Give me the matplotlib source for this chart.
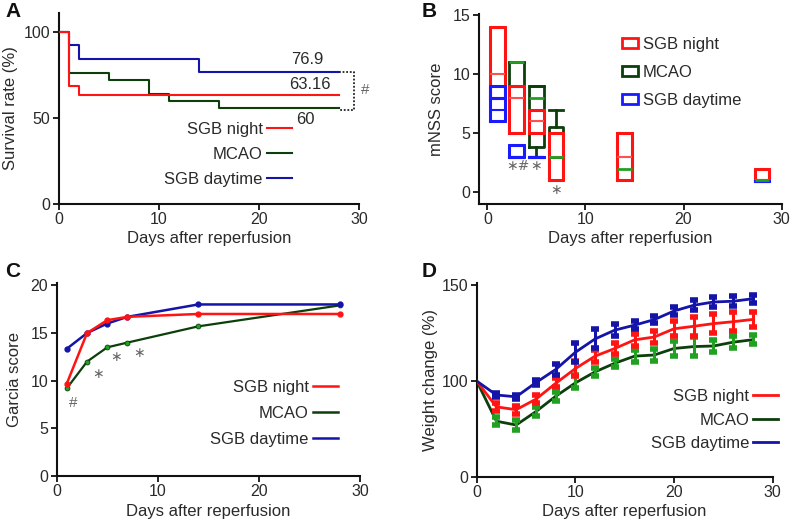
import numpy as np
import matplotlib
matplotlib.use("Agg")
import matplotlib.pyplot as plt
from matplotlib.lines import Line2D
from matplotlib.patches import Patch

plt.rcParams['font.family'] = ['Liberation Sans', 'DejaVu Sans']

RED = '#ff1414'
GREEN_D = '#0c3f0c'
GREEN_L = '#22a022'
BLUE = '#1414a8'
BLUE_B = '#1a1aff'
TXT = '#2a2a2a'
ANN = '#666666'
STAR = '\u2217'

groups = ['SGB night', 'MCAO', 'SGB daytime']

# ---------- Panel A: survival ----------
surv_days_night = [0, 1, 2, 28]
surv_night = [100, 68.4, 63.16, 63.16]
surv_days_mcao = [0, 1, 5, 9, 11, 16, 28]
surv_mcao = [100, 76, 72, 64, 60, 56, 56]
surv_days_day = [0, 1, 2, 14, 28]
surv_day = [100, 92.3, 84.6, 76.9, 76.9]
surv_labels = ['76.9', '63.16', '60']

# ---------- Panel B: mNSS (floating boxes) ----------
mnss_days_night = [1, 3, 5, 7, 14, 28]
mnss_night_lo = [8, 5, 5, 1, 1, 1]
mnss_night_q1 = [8, 5, 5, 1, 1, 1]
mnss_night_med = [10, 8, 6, 3, 3, 1]
mnss_night_q3 = [14, 9, 7, 5, 5, 2]
mnss_night_hi = [14, 9, 7, 5, 5, 2]

mnss_days_mcao = [3, 5, 7, 14, 28]
mnss_mcao_lo = [9, 3, 3, 1, 1]
mnss_mcao_q1 = [9, 3.8, 3, 1, 1]
mnss_mcao_med = [11, 8, 3, 2, 1]
mnss_mcao_q3 = [11, 9, 5.5, 5, 1]
mnss_mcao_hi = [11, 9, 7, 5, 1]

mnss_days_day = [1, 3, 5, 28]
mnss_day_lo = [6, 3, 3, 0.95]
mnss_day_q1 = [6, 3, 3, 0.95]
mnss_day_med = [7, 3, 3, 0.95]
mnss_day_mean = [8, 3, 3, 0.95]
mnss_day_q3 = [9, 4, 3, 0.95]
mnss_day_hi = [9, 4, 3, 0.95]

# ---------- Panel C: Garcia ----------
garcia_days = [1, 3, 5, 7, 14, 28]
garcia_night = [9.7, 15.0, 16.35, 16.7, 17.0, 17.0]
garcia_mcao = [9.2, 12.0, 13.5, 14.0, 15.7, 17.9]
garcia_day = [13.35, 15.0, 16.0, 16.7, 18.0, 18.0]

# ---------- Panel D: weight ----------
weight_days = [0, 2, 4, 6, 8, 10, 12, 14, 16, 18, 20, 22, 24, 26, 28]
weight_night = [100, 73, 70, 81, 97.5, 106.5, 113, 117, 121.5, 123, 127.3, 128.6, 130, 131, 132.2]
weight_night_err = [0, 4, 4, 4, 4, 4, 3, 3, 3, 3, 4, 5, 5, 5, 4]
weight_mcao = [100, 58, 54, 68, 84, 98, 104.8, 109.3, 113, 113.6, 117, 118, 118.3, 120.3, 121.6]
weight_mcao_err = [0, 4, 5, 5, 5, 5, 2, 2, 3, 3, 4, 5, 3, 3, 2.5]
weight_day = [100, 85.4, 83.5, 98.3, 106, 115, 122, 126.6, 129.2, 132.1, 136.6, 139.6, 141.3, 141.7, 143]
weight_day_err = [0, 2, 2, 2, 3, 5, 5, 3, 2, 2, 2, 2.5, 2.5, 2.5, 2]

fig = plt.figure(figsize=(7.93, 5.24), dpi=100)

def style(ax):
    for s in ['top', 'right']:
        ax.spines[s].set_visible(False)
    for s in ['left', 'bottom']:
        ax.spines[s].set_linewidth(1.5)
        ax.spines[s].set_color('#111111')
    ax.tick_params(direction='out', length=4, width=1.3, labelsize=11.5,
                   colors='#111111', labelcolor=TXT, pad=2)
    ax.set_xlabel('Days after reperfusion', fontsize=12, color=TXT, labelpad=3)

def legend(ax, handles, anchor, loc='center right', first=False, **kw):
    opts = dict(loc=loc, bbox_to_anchor=anchor, frameon=False, markerfirst=first,
                handlelength=1.5, handletextpad=0.25, labelspacing=0.55,
                borderpad=0, borderaxespad=0, fontsize=12)
    opts.update(kw)
    leg = ax.legend(handles, groups, **opts)
    for t in leg.get_texts():
        t.set_color(TXT)
    return leg

def star(ax, x, y, s, size=10):
    ax.text(x, y, s, fontsize=size, color=ANN, ha='center', va='center',
            family=['DejaVu Sans'])

# ---------- A ----------
axA = fig.add_axes([0.074, 0.6116, 0.3787, 0.363])
axA.step(surv_days_day, surv_day, where='post', color=BLUE, lw=1.5, zorder=2)
axA.step(surv_days_mcao, surv_mcao, where='post', color=GREEN_D, lw=1.5, zorder=3)
axA.step(surv_days_night, surv_night, where='post', color=RED, lw=1.5, zorder=4)
axA.set_xlim(0, 30)
axA.set_ylim(0, 111)
axA.set_xticks([0, 10, 20, 30])
axA.set_yticks([0, 50, 100])
style(axA)
axA.set_ylabel('Survival rate (%)', fontsize=12, color=TXT, labelpad=4)
axA.text(24.8, 84, surv_labels[0], fontsize=12, color=TXT, ha='center', va='center')
axA.text(25.1, 69.4, surv_labels[1], fontsize=12, color=TXT, ha='center', va='center')
axA.text(24.6, 49, surv_labels[2], fontsize=12, color=TXT, ha='center', va='center')
axA.plot([28, 29.55, 29.55, 28], [surv_day[-1], surv_day[-1], 54.8, 54.8], ls=(0, (1, 1)),
         color='#222222', lw=1.3, clip_on=False)
axA.text(30.6, 66, '#', fontsize=11, color=ANN, ha='center', va='center')
hA = [Line2D([], [], color=c, lw=1.5) for c in (RED, GREEN_D, BLUE)]
legend(axA, hA, (0.777, 0.258), labelspacing=0.62)

# ---------- B ----------
axB = fig.add_axes([0.6037, 0.6107, 0.382, 0.3626])

def stats(days, lo, q1, med, q3, hi, mean=None):
    out = []
    for i in range(len(days)):
        d = dict(whislo=lo[i], q1=q1[i], med=med[i], q3=q3[i], whishi=hi[i], fliers=[])
        if mean is not None:
            d['mean'] = mean[i]
        out.append(d)
    return out

W = 1.5
axB.bxp(stats(mnss_days_mcao, mnss_mcao_lo, mnss_mcao_q1, mnss_mcao_med, mnss_mcao_q3, mnss_mcao_hi),
        positions=mnss_days_mcao, widths=W, capwidths=W, showfliers=False,
        boxprops=dict(color=GREEN_D, lw=2), whiskerprops=dict(color=GREEN_D, lw=2),
        capprops=dict(color=GREEN_D, lw=2), medianprops=dict(color=GREEN_L, lw=2, zorder=6),
        manage_ticks=False, zorder=2)
axB.bxp(stats(mnss_days_night, mnss_night_lo, mnss_night_q1, mnss_night_med, mnss_night_q3, mnss_night_hi),
        positions=mnss_days_night, widths=W, capwidths=W, showfliers=False,
        boxprops=dict(color=RED, lw=2.2), whiskerprops=dict(color=RED, lw=2),
        capprops=dict(color=RED, lw=2), medianprops=dict(color='#ff5050', lw=1.5),
        manage_ticks=False, zorder=3)
axB.bxp(stats(mnss_days_day, mnss_day_lo, mnss_day_q1, mnss_day_med, mnss_day_q3, mnss_day_hi, mnss_day_mean),
        positions=mnss_days_day, widths=W, capwidths=W, showfliers=False, showmeans=True, meanline=True,
        boxprops=dict(color=BLUE_B, lw=2.2), whiskerprops=dict(color=BLUE_B, lw=2),
        capprops=dict(color=BLUE_B, lw=2), medianprops=dict(color=BLUE_B, lw=1.5),
        meanprops=dict(color=BLUE_B, lw=2.2, ls='-'),
        manage_ticks=False, zorder=4)
axB.set_xlim(-0.88, 30)
axB.set_ylim(-1.0, 15.1)
axB.set_xticks([0, 10, 20, 30])
axB.set_yticks([0, 5, 10, 15])
style(axB)
axB.set_ylabel('mNSS score', fontsize=12, color=TXT, labelpad=6)
star(axB, 3.1, 2.2, STAR + '#')
star(axB, 4.97, 2.2, STAR)
star(axB, 6.97, 0.15, STAR)
hB = [Patch(facecolor='none', edgecolor=c, lw=2) for c in (RED, GREEN_D, BLUE_B)]
legend(axB, hB, (0.4733, 0.692), loc='center left', first=True,
       handlelength=0.96, handleheight=0.6, handletextpad=0.3, labelspacing=0.78)

# ---------- C ----------
axC = fig.add_axes([0.0715, 0.0916, 0.3825, 0.3674])
axC.plot(garcia_days, garcia_mcao, color=GREEN_D, lw=1.6, marker='o', ms=3.5,
         mfc=GREEN_L, mec=GREEN_D, mew=0.6, zorder=2)
axC.plot(garcia_days, garcia_day, color=BLUE, lw=1.8, marker='o', ms=3.5,
         mfc=BLUE, mec=BLUE, zorder=3)
axC.plot(garcia_days, garcia_night, color=RED, lw=1.8, marker='o', ms=3.5,
         mfc=RED, mec=RED, zorder=4)
axC.set_xlim(0, 30)
axC.set_ylim(0, 20.2)
axC.set_xticks([0, 10, 20, 30])
axC.set_yticks([0, 5, 10, 15, 20])
style(axC)
axC.set_ylabel('Garcia score', fontsize=12, color=TXT, labelpad=6)
axC.text(1.6, 7.7, '#', fontsize=11, color=ANN, ha='center', va='center')
star(axC, 4.05, 10.7, STAR)
star(axC, 5.87, 12.5, STAR)
star(axC, 8.17, 12.9, STAR)
hC = [Line2D([], [], color=c, lw=1.8) for c in (RED, GREEN_D, BLUE)]
legend(axC, hC, (0.9275, 0.326), labelspacing=0.65)

# ---------- D ----------
axD = fig.add_axes([0.6011, 0.0903, 0.3733, 0.3688])

def fwd(y):
    y = np.asarray(y, dtype=float)
    return np.where(y <= 100, y, 100 + (y - 100) * 2.0)

def inv(z):
    z = np.asarray(z, dtype=float)
    return np.where(z <= 100, z, 100 + (z - 100) / 2.0)

axD.set_yscale('function', functions=(fwd, inv))
for vals, err, lc, ec, z in [(weight_mcao, weight_mcao_err, GREEN_D, GREEN_L, 2),
                             (weight_night, weight_night_err, RED, RED, 3),
                             (weight_day, weight_day_err, BLUE, BLUE, 4)]:
    axD.plot(weight_days, vals, color=lc, lw=2, zorder=z)
    axD.errorbar(weight_days[1:], vals[1:], yerr=err[1:], fmt='none', ecolor=ec,
                 elinewidth=2.2, capsize=3.2, capthick=4, zorder=z + 0.5)
axD.set_xlim(0, 30)
axD.set_ylim(0, 151)
axD.set_xticks([0, 10, 20, 30])
axD.set_yticks([0, 100, 150])
axD.minorticks_off()
style(axD)
axD.set_ylabel('Weight change (%)', fontsize=12, color=TXT, labelpad=3)
hD = [Line2D([], [], color=c, lw=2) for c in (RED, GREEN_D, BLUE)]
legD = legend(axD, hD, (1.019, 0.293), labelspacing=0.5)

# panel letters
for x, y, s in [(0.007, 0.997, 'A'), (0.532, 0.997, 'B'), (0.007, 0.5, 'C'), (0.532, 0.5, 'D')]:
    fig.text(x, y, s, fontsize=15, fontweight='bold', ha='left', va='top', color='#111111')

fig.savefig('out.png', dpi=100)
